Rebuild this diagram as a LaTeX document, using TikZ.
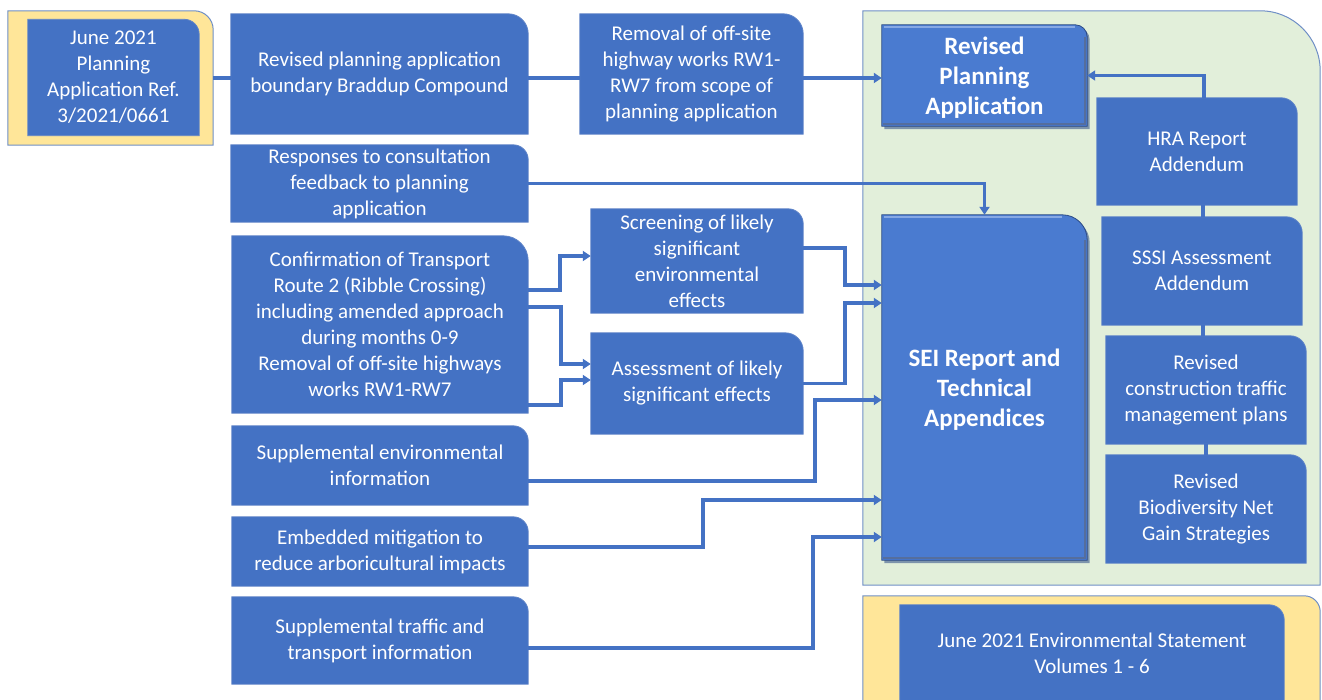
\documentclass[tikz,border=0pt]{standalone}
\usepackage{fontspec}
\setmainfont{Carlito}
\usetikzlibrary{arrows.meta,calc}
\definecolor{boxblue}{HTML}{4472C4}
\definecolor{boxedge}{HTML}{5F84C8}
\definecolor{panelgreen}{HTML}{E2EFDA}
\definecolor{panelyellow}{HTML}{FFE699}
\definecolor{paneledge}{HTML}{6F8FC6}
\definecolor{bevelfill}{HTML}{4A7BD0}
\definecolor{bevelshade}{HTML}{2B4A85}
\definecolor{bevellight}{HTML}{86A8E4}
\pgfdeclarelayer{bg}
\pgfsetlayers{bg,main}
% box outline with only the top-right corner rounded: #1 node, #2 radius, #3 style
\newcommand\roundNE[3]{%
  \path[#3] (#1.south west) -- (#1.north west) -- ([xshift=-#2pt]#1.north east)
    arc[start angle=90,end angle=0,radius=#2pt] -- (#1.south east) -- cycle;}
% raised box with shadow and bevelled edges
\newcommand\bevelbox[2]{%
  \roundNE{#1}{#2}{fill=bevelshade,opacity=.55,transform canvas={shift={(2.5pt,-3pt)}}}
  \roundNE{#1}{#2}{fill=bevelfill,draw=bevelshade,line width=0.8pt}
  \draw[bevellight,line width=2pt] ([shift={(2pt,-1.8pt)}]#1.north west) -- ([shift={(-#2pt,-1.8pt)}]#1.north east);
  \draw[bevelshade!80,line width=2pt] ([shift={(1pt,1.8pt)}]#1.south west) -- ([shift={(-1.8pt,1.8pt)}]#1.south east) -- ([shift={(-1.8pt,-#2pt)}]#1.north east);}
\begin{document}
\begin{tikzpicture}[x=1pt,y=-1pt,
  sz/.style 2 args={minimum width=#1pt,minimum height=#2pt},
  txt/.style={inner sep=0pt,text=white,align=center,font=\fontsize{21}{26}\selectfont},
  boldtxt/.style={txt,font=\fontsize{25}{30}\selectfont\bfseries,text depth=-1.5pt},
  conn/.style={draw=boxblue,line width=3.2pt},
  arr/.style={conn,-{Triangle[length=8pt,width=10pt]}},
  flat/.style={fill=boxblue,draw=boxedge,line width=0.8pt},
  greenpanel/.style={fill=panelgreen,draw=paneledge,line width=1pt},
  yellowpanel/.style={fill=panelyellow,draw=paneledge,line width=1pt},
]
\useasboundingbox (0,0) rectangle (1322,700);

% ---- panels
\node[sz={205}{134}] (junout) at (110.5,78) {};
\node[sz={457}{574}] (revpanel) at (1091.5,298) {};
\node[sz={457}{106}] (esout) at (1091.5,649) {};

% ---- left column
\node[txt,sz={171}{116}] (junin) at (113.5,77.5) {June 2021\\Planning\\Application Ref.\\3/2021/0661};
\node[txt,sz={297}{120}] (rpab) at (379.5,74) {Revised planning application\\boundary Braddup Compound};
\node[txt,sz={297}{77}] (resp) at (379.5,183.5) {Responses to consultation\\feedback to planning\\application};
\node[txt,sz={296}{177}] (conf) at (380,324.5) {Confirmation of Transport\\Route 2 (Ribble Crossing)\\including amended approach\\during months 0-9\\Removal of off-site highways\\works RW1-RW7};
\node[txt,sz={296}{79}] (supenv) at (380,465.5) {Supplemental environmental\\information};
\node[txt,sz={296}{69}] (emb) at (380,551.5) {Embedded mitigation to\\reduce arboricultural impacts};
\node[txt,sz={296}{87}] (suptr) at (380,640.5) {Supplemental traffic and\\transport information};

% ---- middle column
\node[txt,sz={223}{120}] (rem) at (691.5,74) {Removal of off-site\\highway works RW1-\\RW7 from scope of\\planning application};
\node[txt,sz={212}{104}] (scr) at (697,261) {Screening of likely\\significant\\environmental\\effects};
\node[txt,sz={212}{101}] (ass) at (697,383.5) {Assessment of likely\\significant effects};

% ---- revised submission
\node[boldtxt,sz={205}{101}] (rpa) at (984.5,75.5) {Revised\\Planning\\Application};
\node[boldtxt,sz={205}{345}] (sei) at (984.5,387.5) {SEI Report and\\Technical\\Appendices};
\node[txt,sz={200}{107}] (hra) at (1197,151.5) {HRA Report\\Addendum};
\node[txt,sz={200}{108}] (sssi) at (1202,271) {SSSI Assessment\\Addendum};
\node[txt,sz={200}{108}] (ctmp) at (1206,390) {Revised\\construction traffic\\management plans};
\node[txt,sz={200}{108}] (bng) at (1206,509) {Revised\\Biodiversity Net\\Gain Strategies};
\node[txt,sz={384}{97}] (esin) at (1092,653.5) {June 2021 Environmental Statement\\Volumes 1 - 6};

% ---- shapes behind the texts
\begin{pgfonlayer}{bg}
  \roundNE{junout}{19}{yellowpanel}
  \roundNE{revpanel}{60}{greenpanel}
  \roundNE{esout}{16}{yellowpanel}
  \foreach \n/\r in {junin/15,rpab/20,resp/15,conf/25,supenv/15,emb/15,suptr/15,
                     rem/20,scr/15,ass/18,hra/16,sssi/16,ctmp/16,bng/16,esin/15}
    {\roundNE{\n}{\r}{flat}}
  \bevelbox{rpa}{12}
  \bevelbox{sei}{25}
\end{pgfonlayer}

% ---- connectors
\draw[conn] (junout.east) -- (junout.east -| rpab.west);
\draw[conn] (junout.east -| rpab.east) -- (junout.east -| rem.west);
\draw[arr] (junout.east -| rem.east) -- (junout.east -| rpa.west);
\draw[arr] ([xshift=7pt]hra.north) |- (rpa.east);
\draw[conn] (hra.south -| 1203,0) -- (sssi.north -| 1203,0);
\draw[conn] (sssi.south -| 1203,0) -- (ctmp.north -| 1203,0);
\draw[conn] (ctmp.south -| 1206,0) -- (bng.north -| 1206,0);
\draw[arr] (resp.east) -| (sei.north);
\draw[arr] (conf.east |- 0,290) -- (560,290) |- (scr.west |- 0,256);
\draw[arr] (conf.east |- 0,307) -- (561,307) |- (ass.west |- 0,364);
\draw[arr] (conf.east |- 0,405) -- (561,405) |- (ass.west |- 0,380);
\draw[arr] (scr.east |- 0,248) -- (845,248) |- (sei.west |- 0,285);
\draw[arr] (ass.east) -- (845,383.5) |- (sei.west |- 0,303);
\draw[arr] (supenv.east |- 0,481) -- (815,481) |- (sei.west |- 0,400);
\draw[arr] (emb.east |- 0,547) -- (703,547) |- (sei.west |- 0,500);
\draw[arr] (suptr.east |- 0,648) -- (813,648) |- (sei.west |- 0,537);
\end{tikzpicture}
\end{document}
